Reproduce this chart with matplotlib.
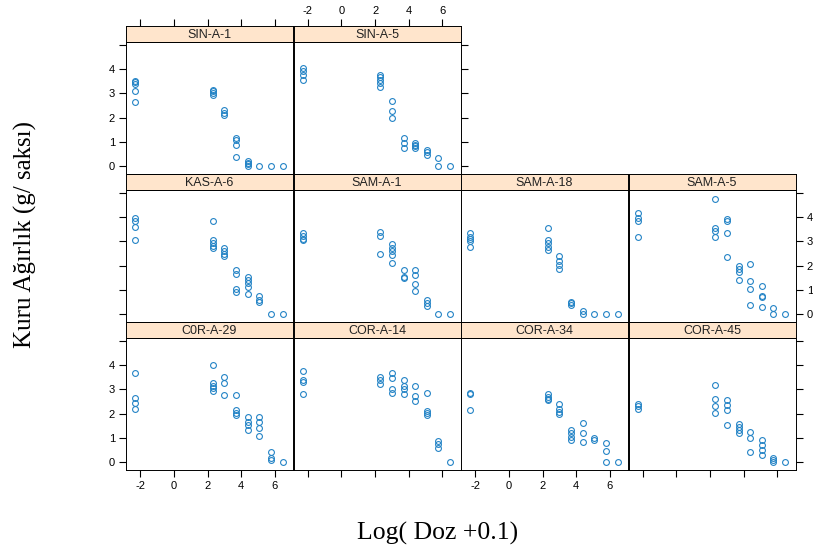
import numpy as np
import matplotlib
matplotlib.use('Agg')
import matplotlib.pyplot as plt

plt.rcParams['axes.unicode_minus'] = False

doses = [0, 10, 20, 40, 80, 160, 320, 640]
log_dose = np.log(np.array(doses) + 0.1)

# kuru agirlik, one inner list per dose
sin_a_1 = [[3.5, 3.45, 3.4, 3.1, 2.65], [3.15, 3.08, 3.0, 2.95], [2.3, 2.2, 2.1],
           [1.17, 1.08, 0.9, 0.37], [0.23, 0.15, 0.08, 0.0], [0], [0], [0]]
sin_a_5 = [[4.05, 3.9, 3.75, 3.55], [3.77, 3.66, 3.55, 3.41, 3.28], [2.7, 2.27, 1.99],
           [1.18, 0.97, 0.76], [0.97, 0.9, 0.82, 0.74], [0.69, 0.6, 0.45], [0.33, 0.0], [0]]
kas_a_6 = [[3.95, 3.84, 3.61, 3.07], [3.84, 3.05, 2.94, 2.82, 2.72], [2.72, 2.6, 2.5, 2.42],
           [1.83, 1.66, 1.05, 0.94], [1.53, 1.42, 1.29, 1.13, 0.83], [0.74, 0.6, 0.5], [0], [0]]
sam_a_1 = [[3.35, 3.22, 3.1, 3.05], [3.4, 3.22, 2.5], [2.9, 2.73, 2.59, 2.44, 2.1],
           [1.83, 1.55, 1.48], [1.83, 1.62, 1.24, 0.97], [0.61, 0.49, 0.33], [0], [0]]
sam_a_18 = [[3.33, 3.2, 3.1, 3.0, 2.78], [3.57, 3.05, 2.92, 2.78, 2.66], [2.4, 2.2, 2.04, 1.87],
            [0.5, 0.45, 0.4], [0.16, 0.03], [0], [0], [0]]
sam_a_5 = [[4.17, 3.98, 3.84, 3.2], [4.74, 3.54, 3.43, 3.16], [3.9, 3.83, 3.35, 2.36],
           [2.0, 1.87, 1.76, 1.42], [2.08, 1.38, 1.05, 0.38], [1.16, 0.75, 0.71, 0.3], [0.25, 0.0], [0]]
cor_a_29 = [[3.66, 2.64, 2.45, 2.2], [4.02, 3.26, 3.13, 3.05, 2.94], [3.5, 3.28, 2.75],
            [2.75, 2.14, 2.03, 1.93], [1.87, 1.66, 1.53, 1.32], [1.88, 1.66, 1.43, 1.09],
            [0.41, 0.19, 0.12], [0]]
cor_a_14 = [[3.77, 3.37, 3.3, 2.79], [3.5, 3.39, 3.21], [3.66, 3.47, 3.02, 2.85],
            [3.39, 3.12, 3.0, 2.79], [3.12, 2.73, 2.52], [2.86, 2.1, 2.03, 1.96],
            [0.87, 0.75, 0.61], [0]]
cor_a_34 = [[2.85, 2.79, 2.14], [2.79, 2.7, 2.6, 2.55], [2.41, 2.2, 2.07, 1.98],
            [1.32, 1.2, 1.05, 0.91], [1.63, 1.19, 0.84], [1.02, 0.91], [0.78, 0.46, 0.03], [0]]
cor_a_45 = [[2.41, 2.3, 2.2], [3.19, 2.62, 2.32, 2.04], [2.55, 2.34, 2.14, 1.53],
            [1.59, 1.46, 1.35, 1.21], [1.23, 1.02, 0.41], [0.91, 0.71, 0.5, 0.3],
            [0.19, 0.08, 0.03], [0]]

# (name, data, row from bottom, column)
panels = [
    ('C0R-A-29', cor_a_29, 0, 0), ('COR-A-14', cor_a_14, 0, 1),
    ('COR-A-34', cor_a_34, 0, 2), ('COR-A-45', cor_a_45, 0, 3),
    ('KAS-A-6', kas_a_6, 1, 0), ('SAM-A-1', sam_a_1, 1, 1),
    ('SAM-A-18', sam_a_18, 1, 2), ('SAM-A-5', sam_a_5, 1, 3),
    ('SIN-A-1', sin_a_1, 2, 0), ('SIN-A-5', sin_a_5, 2, 1),
]
x_ticks = [-2, 0, 2, 4, 6]
y_ticks = [0, 1, 2, 3, 4, 5]
y_labels = ['0', '1', '2', '3', '4', '']

W, H = 813, 548
fig = plt.figure(figsize=(W / 100, H / 100), dpi=100)

col_left = [126, 293.5, 461, 628.5]
pw, ph, sh = 167, 131.5, 16
row_bottom = [469.5, 321.5, 173.5]

tick_font = dict(family='Liberation Sans', size=8)
pt_color = '#2484c6'

for name, data, r, c in panels:
    x0 = col_left[c] / W
    y0 = 1 - row_bottom[r] / H
    ax = fig.add_axes([x0, y0, pw / W, ph / H])
    st = fig.add_axes([x0, y0 + ph / H, pw / W, sh / H])

    xs = np.concatenate([[log_dose[i]] * len(v) for i, v in enumerate(data)])
    ys = np.concatenate([v for v in data])
    ax.plot(xs, ys, 'o', mfc='none', mec=pt_color, ms=4.2, mew=0.8)
    ax.set_xlim(-2.85, 7.08)
    ax.set_ylim(-0.29, 5.11)
    st.set_xlim(-2.85, 7.08)
    st.set_ylim(0, 1)
    st.set_facecolor('#ffe5cc')
    st.text(0.5, 0.45, name, transform=st.transAxes, ha='center', va='center',
            fontsize=9, family='Liberation Sans', color='#222222')
    st.set_yticks([])

    for a in (ax, st):
        for s in a.spines.values():
            s.set_linewidth(0.7)

    ax.tick_params(direction='out', length=5, width=0.8, pad=3, labelsize=8)
    st.tick_params(direction='out', length=5, width=0.8, pad=2, labelsize=8)

    # bottom axis
    if r == 0:
        ax.set_xticks(x_ticks)
        if c in (0, 2):
            ax.set_xticklabels([str(t) for t in x_ticks], **tick_font)
        else:
            ax.set_xticklabels([])
    else:
        ax.set_xticks([])

    # top axis on the strip
    if r == 2:
        st.set_xticks(x_ticks)
        st.xaxis.set_ticks_position('top')
        if c == 1:
            st.xaxis.set_label_position('top')
            st.set_xticklabels([str(t) for t in x_ticks], **tick_font)
        else:
            st.set_xticklabels([])
    else:
        st.set_xticks([])

    # left / right axes
    show_left = c == 0
    show_right = (c == 3) or (r == 2 and c == 1)
    if show_left or show_right:
        ax.set_yticks(y_ticks)
        ax.yaxis.set_ticks_position('both' if (show_left and show_right) else
                                    ('left' if show_left else 'right'))
        lab_left = show_left and r in (0, 2)
        lab_right = show_right and r == 1
        ax.tick_params(axis='y', left=show_left, right=show_right,
                       labelleft=lab_left, labelright=lab_right)
        ax.set_yticklabels(y_labels, **tick_font)
    else:
        ax.set_yticks([])

fig.text(25 / W, 1 - 234 / H, 'Kuru Ağırlık (g/ saksı)', rotation=90,
         ha='center', va='center', family='Liberation Serif', fontsize=18)
fig.text(438 / W, 1 - 533 / H, 'Log( Doz +0.1)', ha='center', va='center',
         family='Liberation Serif', fontsize=18.5)

fig.savefig('out.png', dpi=100)
